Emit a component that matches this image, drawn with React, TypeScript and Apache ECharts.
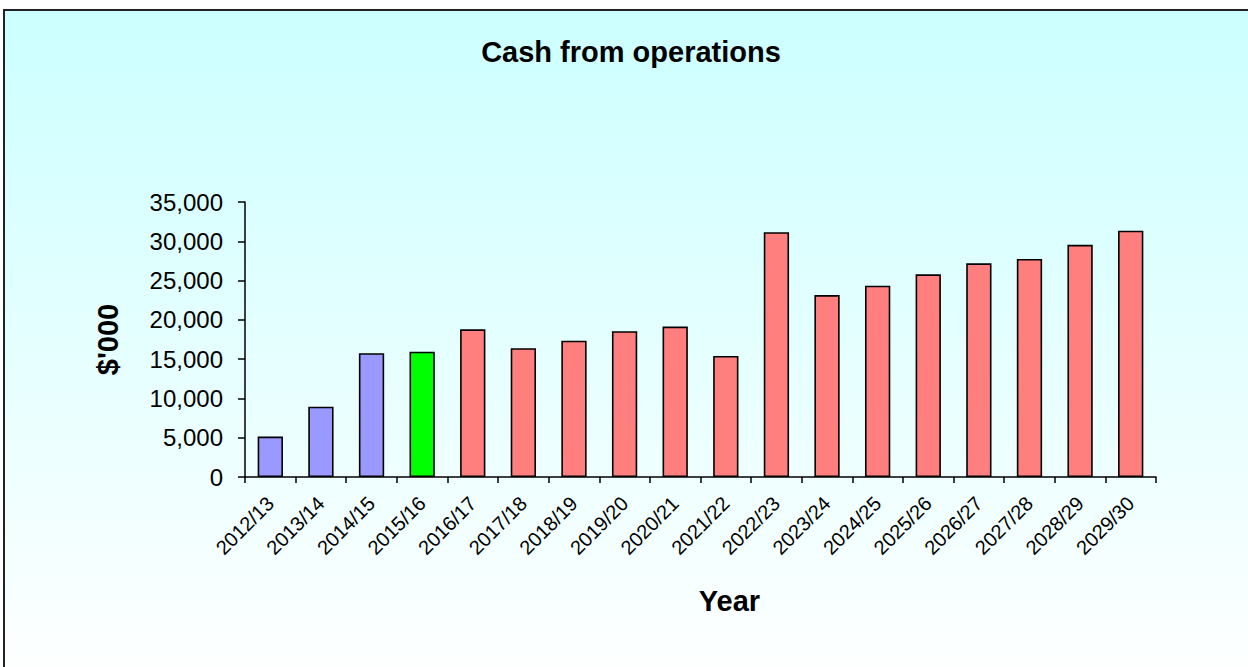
import React, { useEffect, useRef } from "react";
import * as echarts from "echarts";

const categories = [
  "2012/13", "2013/14", "2014/15", "2015/16", "2016/17", "2017/18",
  "2018/19", "2019/20", "2020/21", "2021/22", "2022/23", "2023/24",
  "2024/25", "2025/26", "2026/27", "2027/28", "2028/29", "2029/30",
];
const values = [
  5150, 8950, 15750, 15950, 18800, 16400, 17350, 18550, 19150, 15400,
  31150, 23150, 24350, 25800, 27200, 27750, 29550, 31350,
];
// colour group for each bar: 0 = actual, 1 = current, 2 = forecast
const groups = [0, 0, 0, 1, 2, 2, 2, 2, 2, 2, 2, 2, 2, 2, 2, 2, 2, 2];
const groupColors = ["#9999FF", "#00FF00", "#FF7F7F"];
const yTicks = [0, 5000, 10000, 15000, 20000, 25000, 30000, 35000];

export default function App() {
  const ref = useRef<HTMLDivElement>(null);
  useEffect(() => {
    document.body.style.margin = "0";
    const chart = echarts.init(ref.current!, null, { renderer: "svg" });
    chart.setOption({
      animation: false,
      textStyle: { fontFamily: "Liberation Sans, Arial, sans-serif" },
      graphic: [
        {
          type: "rect",
          z: -10,
          silent: true,
          shape: { x: 4, y: 10, width: 1270, height: 680 },
          style: {
            fill: new echarts.graphic.LinearGradient(0, 0, 0, 1, [
              { offset: 0, color: "#CCFFFF" },
              { offset: 1, color: "#FFFFFF" },
            ]),
            stroke: "#222222",
            lineWidth: 2,
          },
        },
      ],
      title: {
        text: "Cash from operations",
        left: 626,
        textAlign: "center",
        top: 32,
        textStyle: { fontSize: 29, fontWeight: "bold", color: "#000" },
      },
      grid: { left: 245, right: 92, top: 202, bottom: 190, containLabel: false },
      xAxis: {
        type: "category",
        data: categories,
        name: "Year",
        nameLocation: "middle",
        nameGap: 109,
        nameTextStyle: { fontSize: 29, fontWeight: "bold", color: "#000", padding: [0, 0, 0, 58] },
        axisLine: { lineStyle: { color: "#000", width: 1.5 } },
        axisTick: { show: true, alignWithLabel: false, length: 6, lineStyle: { color: "#000", width: 1.5 } },
        axisLabel: { rotate: 45, fontSize: 20, color: "#000", margin: 23, interval: 0 },
      },
      yAxis: {
        type: "value",
        min: 0,
        max: 35000,
        interval: 5000,
        name: "$'000",
        nameLocation: "middle",
        nameGap: 123,
        nameRotate: 90,
        nameTextStyle: { fontSize: 29, fontWeight: "bold", color: "#000" },
        axisLine: { show: true, lineStyle: { color: "#000", width: 1.5 } },
        axisTick: { show: true, length: 7, lineStyle: { color: "#000", width: 1.5 } },
        splitLine: { show: false },
        axisLabel: {
          fontSize: 24,
          color: "#000",
          margin: 22,
          formatter: (v: number) => (yTicks.includes(v) ? v.toLocaleString("en-US") : ""),
        },
      },
      series: [
        {
          type: "bar",
          barWidth: "50%",
          data: values.map((v, i) => ({
            value: v,
            itemStyle: { color: groupColors[groups[i]], borderColor: "#000", borderWidth: 1.6 },
          })),
        },
      ],
    });
    return () => chart.dispose();
  }, []);
  return <div ref={ref} style={{ width: 1248, height: 667 }} />;
}
